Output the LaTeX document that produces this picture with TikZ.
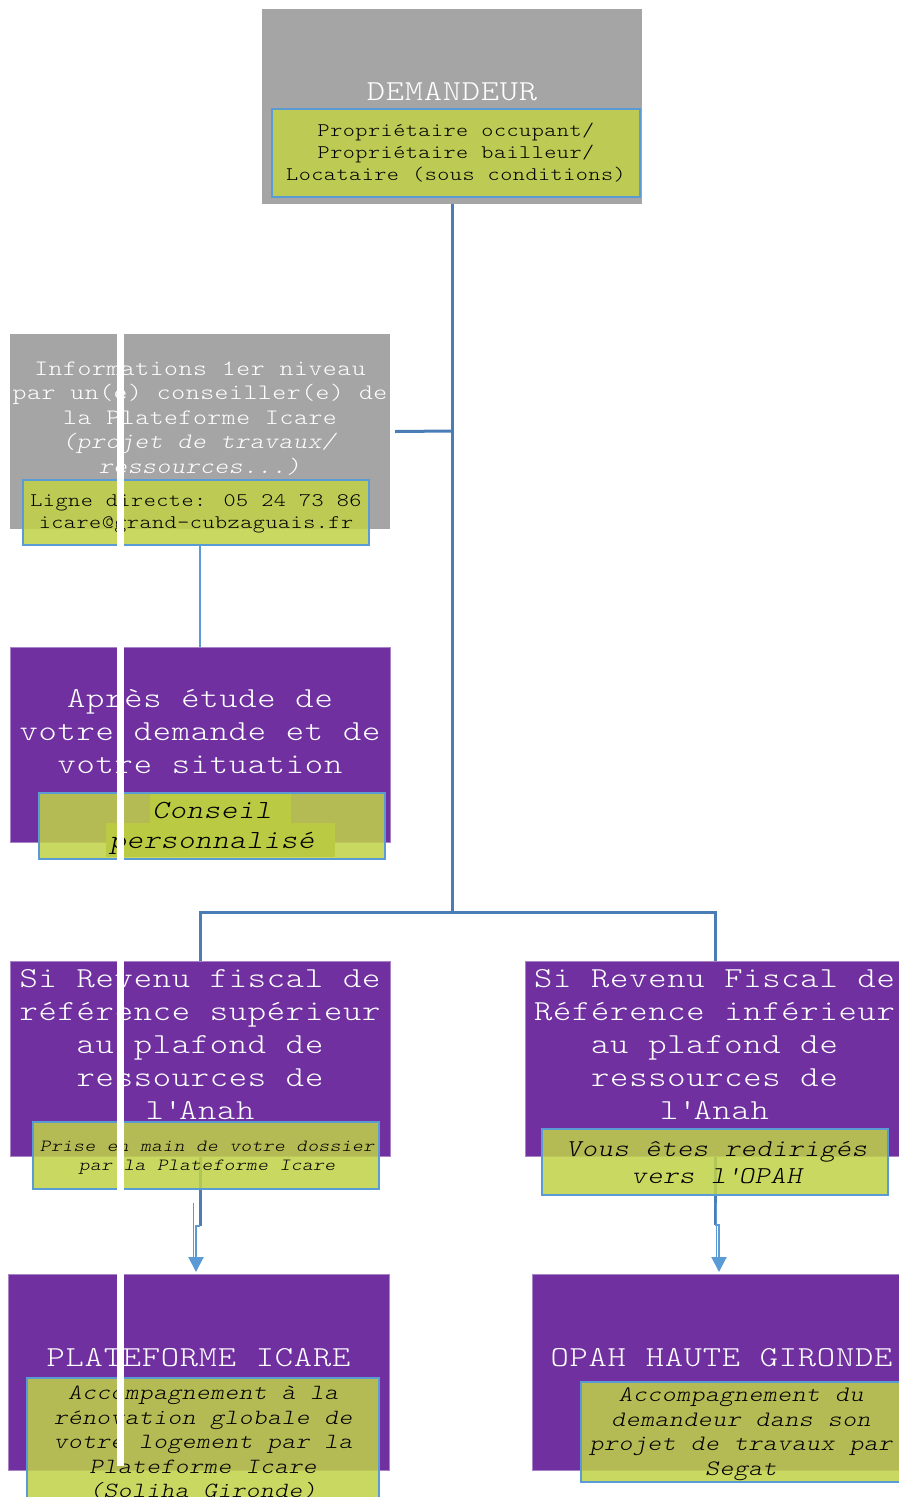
\documentclass[tikz,border=0pt]{standalone}
\usepackage{fontspec}
\setmainfont{lmmonolt10-regular.otf}[ItalicFont=lmmonolt10-oblique.otf, FakeStretch=1.2, LetterSpace=2.6, WordSpace=1.04]
\usetikzlibrary{arrows.meta}
\definecolor{grayfill}{HTML}{A5A5A5}
\definecolor{purp}{HTML}{7030A0}
\definecolor{lime}{RGB}{193,210,72}
\definecolor{limehl}{RGB}{186,202,66}
\definecolor{bord}{HTML}{5B9BD5}
\definecolor{trunkc}{HTML}{4A7DB5}
\pgfdeclarelayer{background}
\pgfsetlayers{background,main}
\begin{document}
\begin{tikzpicture}[x=1pt,y=-1pt,
  graybox/.style={fill=grayfill, draw=none, inner sep=0},
  purplebox/.style={fill=purp, draw=purp!60!white, line width=0.8pt, inner sep=0},
  greenbox/.style={fill=lime, fill opacity=0.86, draw=bord, line width=2pt, inner sep=0},
  wtext/.style={text=white, align=center, inner sep=0},
  btext/.style={text=black, align=center, inner sep=0},
  bigfont/.style={font=\fontsize{29}{33}\selectfont},
  trunk/.style={draw=trunkc, line width=3pt},
  link/.style={draw=bord, line width=2pt},
  thinlink/.style={draw=bord, line width=1pt},
  arr/.style={draw=bord, line width=2pt, -{Triangle[length=15pt,width=15pt]}}
]
\useasboundingbox (0,0) rectangle (899,1497);
\clip (0,0) rectangle (899,1497);

% DEMANDEUR
\node[graybox, minimum width=380pt, minimum height=195pt] (b1) at (452,106.5) {};
\node[greenbox, minimum width=368pt, minimum height=88pt] (g1) at (456,153) {};
\node[wtext, bigfont] (t1) at (452,92) {DEMANDEUR};
\node[btext, font=\fontsize{19.2}{22}\selectfont] (u1) at (456,153) {Propriétaire occupant/\\Propriétaire bailleur/\\Locataire (sous conditions)};

% Informations
\node[graybox, minimum width=380pt, minimum height=195pt] (b2) at (200,431.5) {};
\node[wtext, font=\fontsize{22}{24.5}\selectfont] (t2) at (200,418.5) {Informations 1er niveau\\par un(e) conseiller(e) de\\la Plateforme Icare\\\textit{(projet de travaux/}\\\textit{ressources...)}};
\node[greenbox, minimum width=346pt, minimum height=65pt] (g2) at (196,512.5) {};
\node[btext, font=\fontsize{19.2}{22}\selectfont] (u2) at (196,513.5) {Ligne directe: 05 24 73 86\\icare@grand-cubzaguais.fr};

% Apres etude
\node[purplebox, minimum width=380pt, minimum height=195pt] (b3) at (200,744.5) {};
\node[greenbox, minimum width=346pt, minimum height=66pt] (g3) at (212,826) {};
\fill[limehl] (150,794) rectangle (291,823);
\fill[limehl] (106,823) rectangle (335,857);
\node[wtext, bigfont] (t3) at (200,732) {Après étude de\\votre demande et de\\votre situation};
\node[btext, font=\fontsize{26.1}{30}\selectfont\itshape] (u3) at (212,828) {Conseil\\personnalisé};

% Si revenu superieur
\node[purplebox, minimum width=380pt, minimum height=195pt] (b4) at (200,1058.5) {};
\node[greenbox, minimum width=346pt, minimum height=67pt] (g4) at (206,1155.5) {};
\node[wtext, bigfont] (t4) at (200,1045) {Si Revenu fiscal de\\référence supérieur\\au plafond de\\ressources de\\l\textquotesingle Anah};
\node[btext, font=\fontsize{17}{19}\selectfont\itshape] (u4) at (207,1158) {Prise en main de votre dossier\\par la Plateforme Icare};

% Si revenu inferieur
\node[purplebox, minimum width=380pt, minimum height=195pt] (b5) at (715,1058.5) {};
\node[greenbox, minimum width=346pt, minimum height=66pt] (g5) at (715,1162) {};
\node[wtext, bigfont] (t5) at (714.5,1045) {Si Revenu Fiscal de\\Référence inférieur\\au plafond de\\ressources de\\l\textquotesingle Anah};
\node[btext, font=\fontsize{24.2}{27}\selectfont\itshape] (u5) at (716.5,1162.5) {Vous êtes redirigés\\vers l\textquotesingle OPAH};

% Plateforme Icare
\node[purplebox, minimum width=381pt, minimum height=196pt] (b6) at (198.5,1372) {};
\node[greenbox, minimum width=352pt, minimum height=124pt] (g6) at (203,1440) {};
\node[wtext, bigfont] (t6) at (198.5,1358) {PLATEFORME ICARE};
\node[btext, font=\fontsize{21.7}{24.5}\selectfont\itshape] (u6) at (203,1443) {Accompagnement à la\\rénovation globale de\\votre logement par la\\Plateforme Icare\\(Soliha Gironde)};

% OPAH
\node[purplebox, minimum width=380pt, minimum height=196pt] (b7) at (722,1372) {};
\node[greenbox, minimum width=346pt, minimum height=100pt] (g7) at (754,1432) {};
\node[wtext, bigfont] (t7) at (721.5,1358) {OPAH HAUTE GIRONDE};
\node[btext, font=\fontsize{22}{24.5}\selectfont\itshape] (u7) at (741,1434) {Accompagnement du\\demandeur dans son\\projet de travaux par\\Segat};

% white strip
\fill[white] (117,333) rectangle (124,1466);

\begin{pgfonlayer}{background}
\fill[white] (0,0) rectangle (899,1497);
\coordinate (j1) at (452,431);
\coordinate (split) at (452,912);
\coordinate (a1) at (200,1226);
\coordinate (tip1) at (196,1272);
\coordinate (a2) at (715,1225);
\coordinate (tip2) at (719,1272);
\coordinate (s1) at (193,1203);
\coordinate (e1) at (193,1257);
\coordinate (s2) at (716.5,1203);
\coordinate (e2) at (716.5,1257);
\draw[trunk] (b1.south) -- (split);
\draw[trunk] (j1) -- ([xshift=5pt]b2.east);
\draw[trunk] (split) -| (b4.north);
\draw[trunk] (split) -| (b5.north);
\draw[trunk] (b4.north) -- (a1);
\draw[trunk] (b5.north) -- (a2);
\draw[link] (b3.north |- g2.south) -- ([yshift=-3pt]b3.north);
\draw[arr] (a1) -| (tip1);
\draw[arr] (a2) -| (tip2);
\draw[thinlink] (s1) -- (e1);
\draw[thinlink] (s2) -- (e2);
\end{pgfonlayer}
\end{tikzpicture}
\end{document}
